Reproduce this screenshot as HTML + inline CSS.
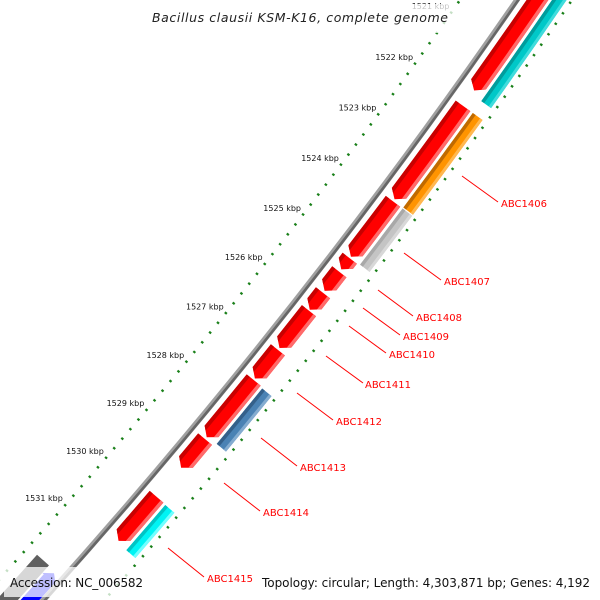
<!DOCTYPE html>
<html><head><meta charset="utf-8"><style>
html,body{margin:0;padding:0;background:#fff;width:600px;height:600px;overflow:hidden;}
svg{display:block;overflow:hidden;}
text{font-family:"DejaVu Sans","Liberation Sans",sans-serif;}
</style></head><body>
<svg id="map" width="600" height="600" viewBox="0 0 600 600" xmlns="http://www.w3.org/2000/svg">
<rect x="0" y="0" width="600" height="600" fill="#fff"/>
<g id="ticks"></g>
<g id="backbone"></g>
<g id="features"></g>
<g id="labels"></g>
<g stroke="#ff0000" stroke-width="1">
<line x1="462" y1="176" x2="498" y2="202"/>
<line x1="404" y1="253" x2="441" y2="280"/>
<line x1="378" y1="290" x2="413" y2="316"/>
<line x1="363" y1="308" x2="400" y2="335"/>
<line x1="349" y1="326" x2="386" y2="353"/>
<line x1="326" y1="356" x2="363" y2="383"/>
<line x1="297" y1="393" x2="333" y2="420"/>
<line x1="261" y1="438" x2="297" y2="466"/>
<line x1="224" y1="483" x2="260" y2="511"/>
<line x1="168" y1="548" x2="204" y2="577"/>
</g>
<g font-size="10" fill="#ff0000">
<text x="501" y="207">ABC1406</text>
<text x="444" y="285">ABC1407</text>
<text x="416" y="321">ABC1408</text>
<text x="403" y="340">ABC1409</text>
<text x="389" y="358">ABC1410</text>
<text x="365" y="388">ABC1411</text>
<text x="336" y="425">ABC1412</text>
<text x="300" y="471">ABC1413</text>
<text x="263" y="516">ABC1414</text>
<text x="207" y="582">ABC1415</text>
</g>
<rect x="145" y="4" width="310" height="29" fill="#fff" fill-opacity="0.75"/>
<text x="152" y="22" font-size="12.5" font-style="italic" fill="#222" textLength="296">Bacillus clausii KSM-K16, complete genome</text>
<rect x="4" y="567" width="146" height="30" fill="#fff" fill-opacity="0.75"/>
<rect x="255" y="567" width="342" height="30" fill="#fff" fill-opacity="0.75"/>
<text x="10" y="587" font-size="12" fill="#111" textLength="133">Accession: NC_006582</text>
<text x="262" y="587" font-size="12" fill="#111" textLength="328">Topology: circular; Length: 4,303,871 bp; Genes: 4,192</text>
</svg>
<script>
// ---- data (kbp) ----
const fwdStart = [1519.0, 1522.0, 1523.87, 1525.0, 1525.27, 1525.69, 1526.05, 1526.84, 1527.45, 1528.66, 1529.85];
const fwdEnd   = [1521.70, 1523.83, 1524.97, 1525.22, 1525.65, 1526.03, 1526.80, 1527.42, 1528.62, 1529.25, 1530.77];
const revStart = [1519.0, 1522.0, 1523.87, 1527.47, 1529.86];
const revEnd   = [1521.77, 1523.85, 1524.98, 1528.60, 1530.80];
const revColor = ["cyan-dark", "orange", "grey", "steelblue", "cyan"];
const tickLabels = [1521, 1522, 1523, 1524, 1525, 1526, 1527, 1528, 1529, 1530, 1531];

// ---- geometry ----
const NS = "http://www.w3.org/2000/svg";
const CX = -4379, CY = -3376, A0 = 35.72, DPK = 0.608;
function ang(k){ return (A0 + (k - 1522) * DPK) * Math.PI / 180; }
function pt(k, r){ const a = ang(k); return [CX + r * Math.cos(a), CY + r * Math.sin(a)]; }
function f(p){ return p[0].toFixed(2) + " " + p[1].toFixed(2); }
function mk(tag, attrs, parent){
  const el = document.createElementNS(NS, tag);
  for (const k in attrs) el.setAttribute(k, attrs[k]);
  parent.appendChild(el); return el;
}
function arcPath(k0, k1, r){ return "M" + f(pt(k0, r)) + " A" + r + " " + r + " 0 0 1 " + f(pt(k1, r)); }

// ---- ticks ----
const gT = document.getElementById("ticks");
for (let i = 0; i <= 75; i++){
  const k = 1518.5 + i * 0.2;
  const major = Math.abs(k - Math.round(k)) < 0.01;
  const rIn = major ? [5896, 5904] : [5899, 5901.6];
  const rOut = major ? [5989, 5997] : [5991.2, 5993.8];
  const a = mk("line", {x1: pt(k, rIn[0])[0], y1: pt(k, rIn[0])[1], x2: pt(k, rIn[1])[0], y2: pt(k, rIn[1])[1], stroke: "#1a801a", "stroke-width": 2.2}, gT);
  
  
  const b = mk("line", {x1: pt(k, rOut[0])[0], y1: pt(k, rOut[0])[1], x2: pt(k, rOut[1])[0], y2: pt(k, rOut[1])[1], stroke: "#1a801a", "stroke-width": 2.2}, gT);
  
  
}

// ---- tick labels ----
const gL = document.getElementById("labels");
tickLabels.forEach(function(k){
  const p = pt(k, 5900);
  const t = mk("text", {x: (p[0] + 2).toFixed(1), y: (p[1] - 8.5).toFixed(1), "text-anchor": "end", "font-size": "8", fill: "#111"}, gL);
  t.textContent = k + " kbp";
  
  
});

// ---- backbone ----
const gB = document.getElementById("backbone");
const bb1 = mk("path", {d: arcPath(1518, 1534, 5947), fill: "none", stroke: "#a0a0a0", "stroke-width": 5.5}, gB);


const bb2 = mk("path", {d: arcPath(1518, 1534, 5948.2), fill: "none", stroke: "#666666", "stroke-width": 2.6}, gB);



// ---- features ----
const gF = document.getElementById("features");
function bandPath(s, e, ra, rb){
  return arcPath(s, e, ra) + " L" + f(pt(e, rb)) + " A" + rb + " " + rb + " 0 0 0 " + f(pt(s, rb)) + " Z";
}
function arrowBand(s, e, r0, r1, ra, rb, head){
  const rm = (r0 + r1) / 2, hl = Math.min(head, e - s), hb = e - hl;
  const endK = function(r){ return hb + (e - hb) * (1 - Math.abs(r - rm) / (rm - r0)); };
  let d = arcPath(s, endK(ra), ra);
  if (ra < rm && rb > rm) d += " L" + f(pt(e, rm));
  const ke = endK(rb);
  d += " L" + f(pt(ke, rb)) + " A" + rb + " " + rb + " 0 0 0 " + f(pt(s, rb)) + " Z";
  return d;
}
const R0 = 5955, R1 = 5973, HEAD = 0.12;
for (let i = 0; i < fwdStart.length; i++){
  const s = fwdStart[i], e = fwdEnd[i];
  const g = mk("g", {}, gF);
  
  
  mk("path", {d: arrowBand(s, e, R0, R1, R0, R1, HEAD), fill: "#ff0000"}, g);
  mk("path", {d: arrowBand(s, e, R0, R1, R0, R0 + 4, HEAD), fill: "#c80000"}, g);
  mk("path", {d: arrowBand(s, e, R0, R1, R1 - 3.5, R1, HEAD), fill: "#ff6a6a"}, g);
}
const pal = {
  "cyan-dark": ["#00c8c8", "#009c9c", "#40dcdc"],
  "orange": ["#ff9400", "#c06a00", "#ffb850"],
  "grey": ["#c4c4c4", "#a8a8a8", "#d8d8d8"],
  "steelblue": ["#4a82b4", "#34608a", "#84acd0"],
  "cyan": ["#00f4f4", "#00c4c4", "#70ffff"]
};
const Q0 = 5976, Q1 = 5988;
for (let i = 0; i < revStart.length; i++){
  const s = revStart[i], e = revEnd[i], c = pal[revColor[i]];
  const g = mk("g", {}, gF);
  
  
  mk("path", {d: bandPath(s, e, Q0, Q1), fill: c[0]}, g);
  mk("path", {d: bandPath(s, e, Q0, Q0 + 3.5), fill: c[1]}, g);
  mk("path", {d: bandPath(s, e, Q1 - 3, Q1), fill: c[2]}, g);
}
const ig = mk("path", {d: bandPath(1531.79, 1533.2, 5912, 5928), fill: "#606060"}, gF);


const ib = mk("path", {d: bandPath(1531.95, 1533.2, 5930, 5944) + " M" + f(pt(1531.95, 5928)) + " L" + f(pt(1531.83, 5937)) + " L" + f(pt(1531.95, 5946)) + " Z", fill: "#0000ff"}, gF);


</script>
</body></html>
